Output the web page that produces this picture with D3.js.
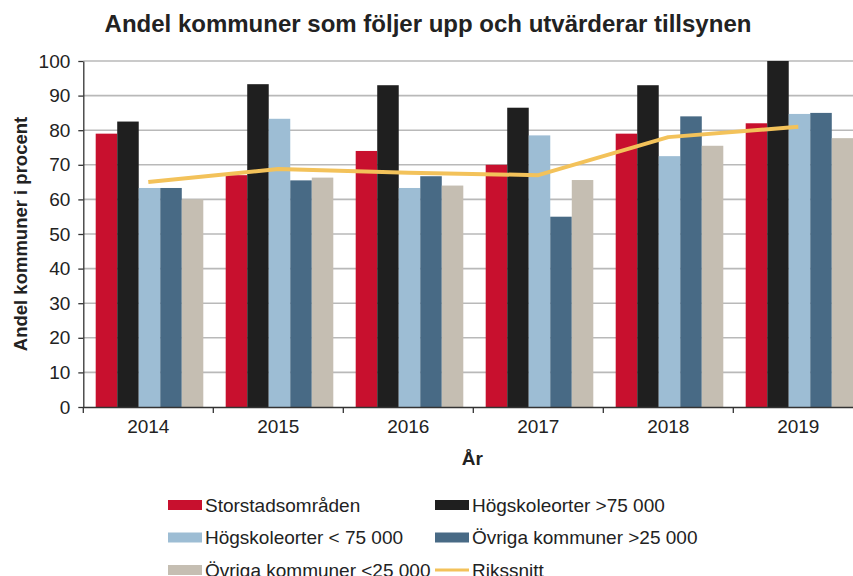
<!DOCTYPE html>
<html>
<head>
<meta charset="utf-8">
<script src="https://cdn.jsdelivr.net/npm/d3@7"></script>
<style>
  body { margin: 0; background: #fff; }
  text { font-family: "Liberation Sans", Arial, sans-serif; fill: #222; }
  .axis path, .axis line { stroke: #333; stroke-width: 1.3; }
  .grid line { stroke: #b9b9b9; stroke-width: 1.6; }
</style>
</head>
<body>
<div id="chart"></div>
<script>
var years = ["2014", "2015", "2016", "2017", "2018", "2019"],
    seriesNames = ["Storstadsområden", "Högskoleorter >75 000", "Högskoleorter < 75 000",
                   "Övriga kommuner >25 000", "Övriga kommuner <25 000"],
    storstad = [79, 67, 74, 70, 79, 82],
    hogskolaStor = [82.5, 93.3, 93, 86.5, 93, 100],
    hogskolaLiten = [63.3, 83.3, 63.3, 78.5, 72.5, 84.7],
    ovrigaStor = [63.3, 65.5, 66.7, 55, 84, 85],
    ovrigaLiten = [60, 66.3, 64, 65.6, 75.5, 77.7],
    rikssnitt = [65, 68.8, 67.7, 67, 78, 81],
    yTicks = [0, 10, 20, 30, 40, 50, 60, 70, 80, 90, 100],
    colors = ["#c8102e", "#1f1f1f", "#9dbdd4", "#486a85", "#c5beb2"],
    lineColor = "#f3c25a";

var seriesValues = [storstad, hogskolaStor, hogskolaLiten, ovrigaStor, ovrigaLiten];

var margin = { top: 61, left: 83.3 },
    width = 780,
    height = 346;

var svg = d3.select("#chart").append("svg")
    .attr("width", 853)
    .attr("height", 576);

svg.append("text")
    .text("Andel kommuner som följer upp och utvärderar tillsynen")
    .attr("x", 428).attr("y", 32)
    .style("text-anchor", "middle")
    .style("font-weight", "bold")
    .style("font-size", "24px");

var g = svg.append("g")
    .attr("transform", "translate(" + margin.left + "," + margin.top + ")");

var x0 = d3.scaleBand().domain(years).range([0, width]);
var x1 = d3.scaleBand().domain(d3.range(seriesNames.length)).range([12.4, 120]);
var y = d3.scaleLinear().domain([0, 100]).range([height, 0]);

// gridlines
g.append("g").attr("class", "grid")
  .selectAll("line")
  .data(yTicks.filter(function(d) { return d > 0; }))
  .enter().append("line")
    .attr("x1", 0).attr("x2", width)
    .attr("y1", function(d) { return y(d); })
    .attr("y2", function(d) { return y(d); });

// bars
var groups = g.selectAll(".year")
    .data(years)
    .enter().append("g")
      .attr("class", "year")
      .attr("transform", function(d) { return "translate(" + x0(d) + ",0)"; });

groups.selectAll("rect")
    .data(function(d, i) { return seriesValues.map(function(s, k) { return { k: k, v: s[i] }; }); })
    .enter().append("rect")
      .attr("x", function(d) { return x1(d.k); })
      .attr("y", function(d) { return y(d.v); })
      .attr("width", x1.bandwidth())
      .attr("height", function(d) { return height - y(d.v); })
      .style("fill", function(d) { return colors[d.k]; });

// line
var line = d3.line()
    .x(function(d, i) { return x0(years[i]) + x0.bandwidth() / 2; })
    .y(function(d) { return y(d); });

g.append("path")
    .datum(rikssnitt)
    .attr("d", line)
    .style("fill", "none")
    .style("stroke", lineColor)
    .style("stroke-width", 4)
    .style("stroke-linejoin", "round");

// axes
var yAxis = g.append("g").attr("class", "axis")
    .call(d3.axisLeft(y).tickValues(yTicks).tickSize(5).tickSizeOuter(0));
yAxis.selectAll("text").style("font-size", "19px").attr("x", -13);

var xAxis = g.append("g").attr("class", "axis")
    .attr("transform", "translate(0," + height + ")")
    .call(d3.axisBottom(x0).tickSize(0).tickSizeOuter(0));
xAxis.selectAll("text").style("font-size", "19px").attr("y", 9).attr("dy", "0.9em");
xAxis.selectAll(".boundary")
    .data(years)
    .enter().append("line")
      .attr("x1", function(d) { return x0(d); })
      .attr("x2", function(d) { return x0(d); })
      .attr("y1", 0).attr("y2", 6);

g.append("text").text("År")
    .attr("x", width / 2 - 1).attr("y", height + 58)
    .style("text-anchor", "middle")
    .style("font-weight", "bold")
    .style("font-size", "19px");

svg.append("text").text("Andel kommuner i procent")
    .attr("transform", "translate(27," + (margin.top + height / 2) + ") rotate(-90)")
    .style("text-anchor", "middle")
    .style("font-weight", "bold")
    .style("font-size", "18.5px");

// legend
var legendItems = seriesNames.map(function(n, i) { return { name: n, color: colors[i], type: "bar" }; })
    .concat([{ name: "Rikssnitt", color: lineColor, type: "line" }]);
var legendX = [168, 435], legendY = [505, 537.5, 570];

var legend = svg.append("g").selectAll(".legend")
    .data(legendItems)
    .enter().append("g")
      .attr("transform", function(d, i) {
        return "translate(" + legendX[i % 2] + "," + legendY[Math.floor(i / 2)] + ")";
      });

legend.filter(function(d) { return d.type === "bar"; })
    .append("rect")
      .attr("x", 0).attr("y", -5)
      .attr("width", 34).attr("height", 10)
      .style("fill", function(d) { return d.color; });

legend.filter(function(d) { return d.type === "line"; })
    .append("line")
      .attr("x1", 0).attr("x2", 34)
      .attr("y1", 0).attr("y2", 0)
      .style("stroke", function(d) { return d.color; })
      .style("stroke-width", 3);

legend.append("text")
    .text(function(d) { return d.name; })
    .attr("x", 37).attr("y", 0)
    .attr("dy", "0.35em")
    .style("font-size", "19px");
</script>
</body>
</html>
